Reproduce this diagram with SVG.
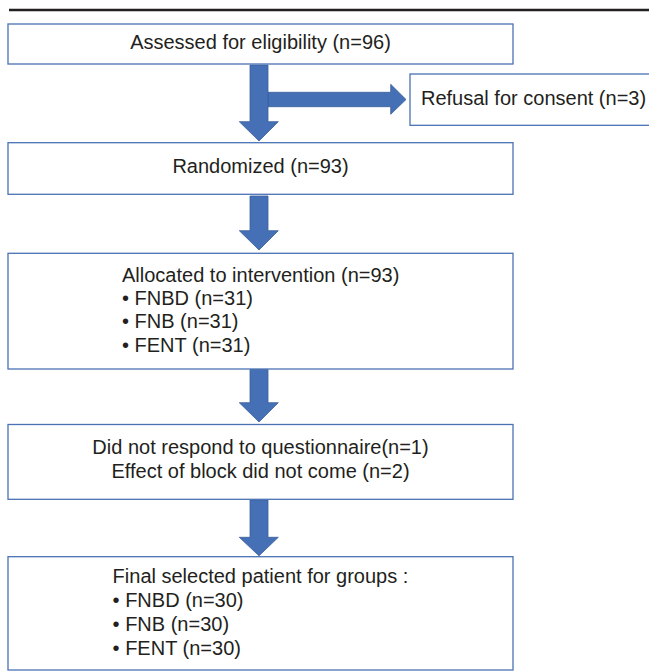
<svg xmlns="http://www.w3.org/2000/svg" width="649" height="672" viewBox="0 0 649 672">
  <style>
    .box { fill: #ffffff; stroke: #4a72b4; stroke-width: 1.3; }
    .arrow { fill: #4670b6; stroke: #3a5e9c; stroke-width: 0.8; }
    .t { font-family: "Liberation Sans", Arial, sans-serif; font-size: 20px; fill: #231f20; }
    .c { text-anchor: middle; }
  </style>
  <rect width="649" height="672" fill="#ffffff"/>
  <line x1="9" y1="10" x2="649" y2="10" stroke="#231f20" stroke-width="2.5"/>

  <g id="connectors">
    <polygon class="arrow" points="268,92.3 390.7,92.3 390.7,84.3 406,99.5 390.7,114.3 390.7,106.7 268,106.7"/>
    <polygon class="arrow" points="250,65 268,65 268,121.7 278.3,121.7 259,141 239.3,121.7 250,121.7"/>
    <polygon class="arrow" points="250,196 268,196 268,230.7 278.3,230.7 259,250 239.3,230.7 250,230.7"/>
    <polygon class="arrow" points="250,369.5 268,369.5 268,402.7 278.3,402.7 259,422 239.3,402.7 250,402.7"/>
    <polygon class="arrow" points="250,500 268,500 268,537.3 278.3,537.3 259,555.8 239.3,537.3 250,537.3"/>
  </g>

  <g id="assessed">
    <rect class="box" x="8" y="24" width="505" height="40"/>
    <text class="t c" x="260.5" y="49">Assessed for eligibility (n=96)</text>
  </g>

  <g id="refusal">
    <rect class="box" x="410" y="74" width="245" height="51.3"/>
    <text class="t" x="421" y="105">Refusal for consent (n=3)</text>
  </g>

  <g id="randomized">
    <rect class="box" x="8" y="142.7" width="505" height="51.6"/>
    <text class="t c" x="260.5" y="173.3">Randomized (n=93)</text>
  </g>

  <g id="allocated">
    <rect class="box" x="8" y="253.3" width="505" height="115.7"/>
    <text class="t" x="122" y="281.7">Allocated to intervention (n=93)</text>
    <text class="t" x="122" y="305">• FNBD (n=31)</text>
    <text class="t" x="122" y="328.3">• FNB (n=31)</text>
    <text class="t" x="122" y="351.7">• FENT (n=31)</text>
  </g>

  <g id="excluded">
    <rect class="box" x="8" y="424.5" width="505" height="74.8"/>
    <text class="t c" x="260.5" y="454.3">Did not respond to questionnaire(n=1)</text>
    <text class="t c" x="260.5" y="478.3">Effect of block did not come (n=2)</text>
  </g>

  <g id="final">
    <rect class="box" x="8" y="556.7" width="505" height="113.3"/>
    <text class="t" x="112.6" y="582.7">Final selected patient for groups :</text>
    <text class="t" x="112.6" y="606.7">• FNBD (n=30)</text>
    <text class="t" x="112.6" y="630.7">• FNB (n=30)</text>
    <text class="t" x="112.6" y="655">• FENT (n=30)</text>
  </g>
</svg>
